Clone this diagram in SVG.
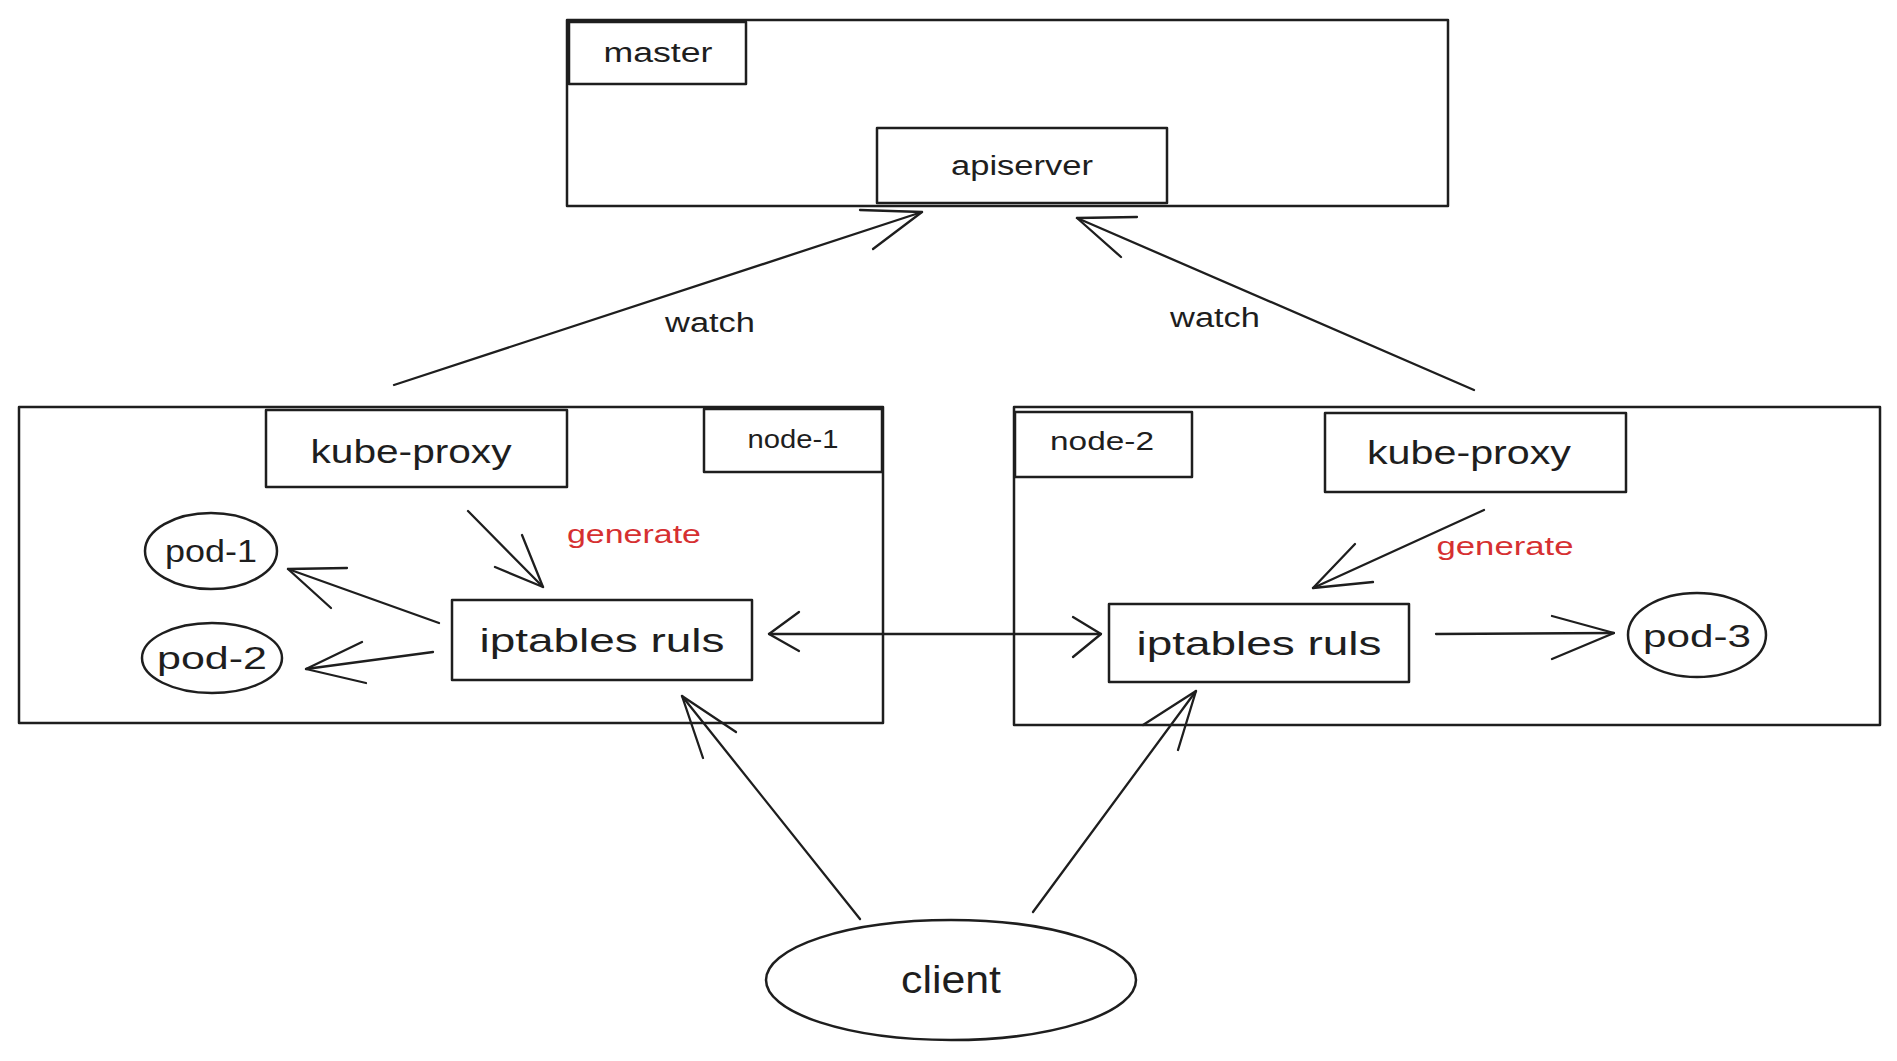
<svg xmlns="http://www.w3.org/2000/svg" width="1897" height="1061" viewBox="0 0 1897 1061">
<style>
.box{fill:none;stroke:#1e1e1e;stroke-width:2.5;stroke-linejoin:round}
.ln{fill:none;stroke:#1e1e1e;stroke-width:2.3;stroke-linecap:round;stroke-linejoin:round}
.t{font-family:"Liberation Sans",Arial,sans-serif;fill:#1e1e1e;text-anchor:middle}
.red{fill:#d63031}
</style>
<rect width="1897" height="1061" fill="#ffffff"/>

<g id="master">
<rect class="box" x="567" y="20" width="881" height="186"/>
<rect class="box" x="569" y="22" width="177" height="62"/>
<text class="t" x="658" y="62" font-size="27" textLength="109" lengthAdjust="spacingAndGlyphs">master</text>
</g>

<g id="apiserver">
<rect class="box" x="877" y="128" width="290" height="75"/>
<text class="t" x="1022" y="175" font-size="27" textLength="142" lengthAdjust="spacingAndGlyphs">apiserver</text>
</g>

<g id="node-1">
<rect class="box" x="19" y="407" width="864" height="316"/>
<rect class="box" x="704" y="409" width="178" height="63"/>
<text class="t" x="793" y="448" font-size="26" textLength="91" lengthAdjust="spacingAndGlyphs">node-1</text>
</g>

<g id="kube-proxy-1">
<rect class="box" x="266" y="410" width="301" height="77"/>
<text class="t" x="411" y="463" font-size="34" textLength="201" lengthAdjust="spacingAndGlyphs">kube-proxy</text>
</g>

<g id="pod-1">
<ellipse class="box" cx="211" cy="551" rx="66" ry="38"/>
<text class="t" x="211" y="562" font-size="32" textLength="92" lengthAdjust="spacingAndGlyphs">pod-1</text>
</g>

<g id="pod-2">
<ellipse class="box" cx="212" cy="658" rx="70" ry="35"/>
<text class="t" x="212" y="669" font-size="32" textLength="110" lengthAdjust="spacingAndGlyphs">pod-2</text>
</g>

<g id="iptables-1">
<rect class="box" x="452" y="600" width="300" height="80"/>
<text class="t" x="602" y="652" font-size="34" textLength="245" lengthAdjust="spacingAndGlyphs">iptables ruls</text>
</g>

<g id="node-2">
<rect class="box" x="1014" y="407" width="866" height="318"/>
<rect class="box" x="1015" y="412" width="177" height="65"/>
<text class="t" x="1102" y="450" font-size="26" textLength="104" lengthAdjust="spacingAndGlyphs">node-2</text>
</g>

<g id="kube-proxy-2">
<rect class="box" x="1325" y="413" width="301" height="79"/>
<text class="t" x="1469" y="464" font-size="34" textLength="204" lengthAdjust="spacingAndGlyphs">kube-proxy</text>
</g>

<g id="iptables-2">
<rect class="box" x="1109" y="604" width="300" height="78"/>
<text class="t" x="1259" y="655" font-size="34" textLength="245" lengthAdjust="spacingAndGlyphs">iptables ruls</text>
</g>

<g id="pod-3">
<ellipse class="box" cx="1697" cy="635" rx="69" ry="42"/>
<text class="t" x="1697" y="647" font-size="32" textLength="108" lengthAdjust="spacingAndGlyphs">pod-3</text>
</g>

<g id="client">
<ellipse class="box" cx="951" cy="980" rx="185" ry="60"/>
<text class="t" x="951" y="993" font-size="38" textLength="100" lengthAdjust="spacingAndGlyphs">client</text>
</g>

<g id="connectors">
<!-- watch left -->
<path class="ln" d="M394 385 L922 212"/>
<path class="ln" d="M873 249 L922 212 L860 210"/>
<text class="t" x="710" y="332" font-size="27" textLength="90" lengthAdjust="spacingAndGlyphs">watch</text>
<!-- watch right -->
<path class="ln" d="M1474 390 L1077 218"/>
<path class="ln" d="M1121 257 L1077 218 L1137 217"/>
<text class="t" x="1215" y="327" font-size="27" textLength="90" lengthAdjust="spacingAndGlyphs">watch</text>
<!-- generate node-1 -->
<path class="ln" d="M468 511 L543 587"/>
<path class="ln" d="M495 567 L543 587 L522 535"/>
<text class="t red" x="634" y="543" font-size="26" textLength="134" lengthAdjust="spacingAndGlyphs">generate</text>
<!-- iptables-1 to pods -->
<path class="ln" d="M439 623 L288 569"/>
<path class="ln" d="M347 568 L288 569 L331 608"/>
<path class="ln" d="M433 652 L306 669"/>
<path class="ln" d="M362 642 L306 669 L366 683"/>
<!-- iptables-1 <-> iptables-2 -->
<path class="ln" d="M769 634 L1101 634"/>
<path class="ln" d="M799 612 L769 634 L799 651"/>
<path class="ln" d="M1073 617 L1101 634 L1073 657"/>
<!-- generate node-2 -->
<path class="ln" d="M1484 510 L1313 588"/>
<path class="ln" d="M1355 544 L1313 588 L1373 582"/>
<text class="t red" x="1505" y="555" font-size="26" textLength="137" lengthAdjust="spacingAndGlyphs">generate</text>
<!-- iptables-2 to pod-3 -->
<path class="ln" d="M1436 634 L1614 633"/>
<path class="ln" d="M1552 616 L1614 633 L1552 659"/>
<!-- client to iptables -->
<path class="ln" d="M860 919 L682 696"/>
<path class="ln" d="M703 758 L682 696 L736 732"/>
<path class="ln" d="M1033 912 L1196 691"/>
<path class="ln" d="M1143 725 L1196 691 L1178 750"/>
</g>
</svg>
